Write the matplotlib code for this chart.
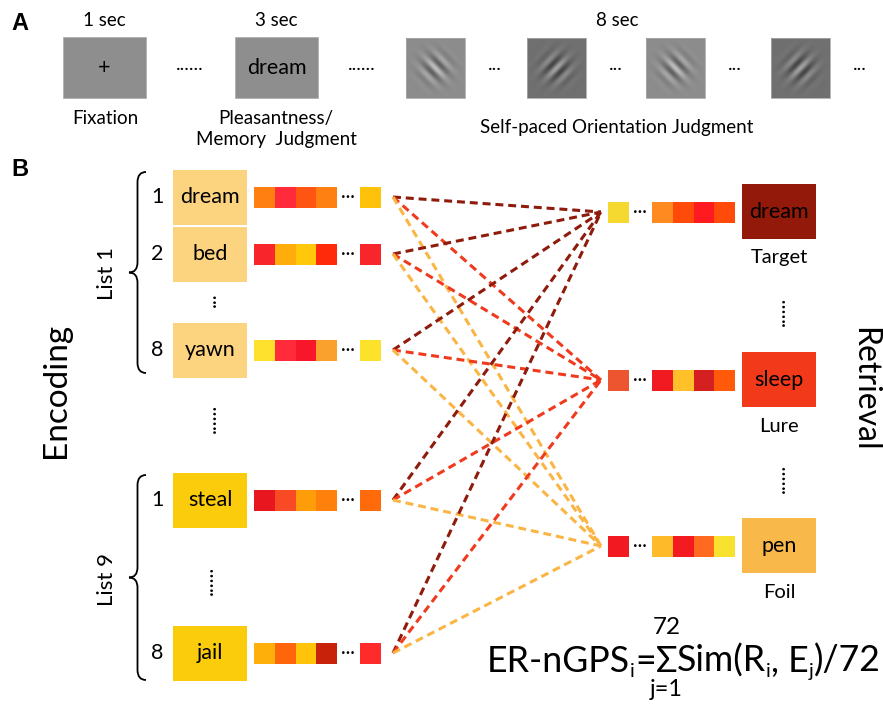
import numpy as np
import matplotlib
matplotlib.use("Agg")
import matplotlib.pyplot as plt
from matplotlib.patches import Rectangle, PathPatch
from matplotlib.path import Path

FONT = ["Lato", "DejaVu Sans"]

# ---- panel A: trial sequence ----
durations = ["1 sec", "3 sec", "8 sec"]
screen_text = ["+", "dream"]
phase_labels = ["Fixation", "Pleasantness/\nMemory  Judgment", "Self-paced Orientation Judgment"]
gabor_stripes = ["\\", "/", "\\", "/"]
gabor_bg = [0.55, 0.44, 0.55, 0.44]

# ---- panel B: encoding items ----
enc_words = ["dream", "bed", "yawn", "steal", "jail"]
enc_numbers = ["1", "2", "8", "1", "8"]
enc_box_colors = ["#fcd37f", "#fcd37f", "#fcd37f", "#fbcc0b", "#fbcc0b"]
enc_vectors = [
    ["#ff7f10", "#ff2a3a", "#ff5512", "#ff8012", "#ffc20a"],
    ["#f8262a", "#ffad0a", "#ffc80a", "#ff2a0a", "#f8262a"],
    ["#fde12c", "#ff2a3a", "#f8162a", "#f9a12c", "#fde22c"],
    ["#e8161f", "#f74a25", "#ff9c0a", "#ff800a", "#ff6a0a"],
    ["#ffaf0a", "#ff650a", "#ffc30a", "#c8230a", "#ff2a2a"],
]
list_names = ["List 1", "List 9"]

# ---- panel B: retrieval items ----
ret_words = ["dream", "sleep", "pen"]
ret_types = ["Target", "Lure", "Foil"]
ret_box_colors = ["#931a0a", "#f23a1a", "#f9b84a"]
ret_vectors = [
    ["#f5d830", "#ff8a20", "#ff4a0a", "#ff1a20", "#ff4a0a"],
    ["#ec5530", "#f01a20", "#ffc02a", "#d42020", "#ff5a0a"],
    ["#f21a20", "#ffba2a", "#f31a20", "#ff6a20", "#f8e22e"],
]
link_colors = ["#8e1b0c", "#f03a1e", "#fbb545"]

# layout (pixel units, y down)
enc_y = [197, 254, 350, 500, 653]
ret_y = [212, 380, 546]
SQ = 20.8

fig = plt.figure(figsize=(8.83, 7.05), dpi=100)
ax = fig.add_axes([0, 0, 1, 1])
ax.set_xlim(0, 883)
ax.set_ylim(705, 0)
ax.axis("off")


def txt(x, y, s, size, **kw):
    kw.setdefault("ha", "center")
    kw.setdefault("va", "center")
    kw.setdefault("family", FONT)
    return ax.text(x, y, s, fontsize=size, **kw)


def gabor(n, stripe, bg):
    yy, xx = np.mgrid[-1:1:n * 1j, -1:1:n * 1j]
    u = (xx - yy) if stripe == "\\" else (xx + yy)
    env = np.exp(-(xx ** 2 + yy ** 2) / (2 * 0.34 ** 2))
    return bg + 0.2 * env * np.cos(2 * np.pi * u * 2.6 / np.sqrt(2))


def brace(x, y0, y1, w):
    ym = (y0 + y1) / 2
    h = x - w / 2
    verts = [(x, y0), (h, y0), (h, y0 + w * 0.6), (h, ym - w * 0.6), (h, ym), (x - w, ym),
             (h, ym), (h, ym + w * 0.6), (h, y1 - w * 0.6), (h, y1), (x, y1)]
    codes = [Path.MOVETO, Path.CURVE3, Path.CURVE3, Path.LINETO, Path.CURVE3, Path.CURVE3,
             Path.CURVE3, Path.CURVE3, Path.LINETO, Path.CURVE3, Path.CURVE3]
    ax.add_patch(PathPatch(Path(verts, codes), fc="none", ec="black", lw=1.3))


# ---------------- panel A ----------------
txt(20, 24, "A", 17, family="Liberation Sans", weight="bold")
screen_x = [63, 235]
for x0, s, d in zip(screen_x, screen_text, durations[:2]):
    ax.add_patch(Rectangle((x0, 37), 83, 61, fc="#8e8e8e", ec="#b0b0b0", lw=0.6))
    txt(x0 + 41.5, 68, s, 15.5)
    txt(x0 + 41.5, 21, d, 13.5)
txt(190, 64, "......", 14)
txt(362, 64, "......", 14)

gab_x = [406, 527, 646, 771]
for x0, st, bg in zip(gab_x, gabor_stripes, gabor_bg):
    ax.imshow(gabor(80, st, bg), cmap="gray", vmin=0, vmax=1, extent=(x0, x0 + 59, 98, 38),
              interpolation="bilinear")
    ax.add_patch(Rectangle((x0, 38), 59, 60, fc="none", ec="#a8a8a8", lw=0.6))
    txt(x0 + 89, 64, "...", 14)
txt(617, 21, durations[2], 13.5)
txt(105, 118, phase_labels[0], 13.5)
txt(276, 129, phase_labels[1], 13.5, linespacing=1.3)
txt(617, 127, phase_labels[2], 13.5)
ax.set_xlim(0, 883)
ax.set_ylim(705, 0)
ax.set_aspect("auto")

# ---------------- panel B ----------------
txt(20, 170, "B", 17, family="Liberation Sans", weight="bold")
txt(56, 390, "Encoding", 24, rotation=90)
txt(864, 389, "Retrieval", 23, rotation=-90)

brace(146, 172, 373, 17)
brace(146, 475, 680, 17)
txt(107, 274, list_names[0], 16, rotation=90)
txt(107, 579, list_names[1], 16, rotation=90)

# links between encoding and retrieval vectors (drawn first)
for ye in enc_y:
    for yr, c in zip(ret_y, link_colors):
        ax.plot([393, 601], [ye, yr], color=c, lw=2.2, ls=(0, (2.6, 1.6)), zorder=1)

for y, w, n, bc, vec in zip(enc_y, enc_words, enc_numbers, enc_box_colors, enc_vectors):
    ax.add_patch(Rectangle((173, y - 27.5), 74, 55, fc=bc, ec="none", zorder=2))
    txt(210, y, w, 15.5)
    txt(157, y, n, 15.5)
    for k, c in enumerate(vec[:4]):
        ax.add_patch(Rectangle((254 + k * SQ, y - 10.5), SQ, 21, fc=c, ec="none", zorder=2))
    txt(348, y, "\u00b7\u00b7\u00b7", 13)
    ax.add_patch(Rectangle((360, y - 10.5), SQ, 21, fc=vec[4], ec="none", zorder=2))

# vertical ellipses on the encoding side
txt(210, 300, "...", 15, rotation=90)
txt(210, 418, "......", 15, rotation=90)
txt(207, 580, "......", 15, rotation=90)

for y, w, t, bc, vec in zip(ret_y, ret_words, ret_types, ret_box_colors, ret_vectors):
    ax.add_patch(Rectangle((742, y - 28), 74, 55, fc=bc, ec="none", zorder=2))
    txt(779, y, w, 15.5)
    txt(779, y + 46, t, 14.5)
    ax.add_patch(Rectangle((608, y - 10.5), SQ, 21, fc=vec[0], ec="none", zorder=2))
    txt(640, y, "\u00b7\u00b7\u00b7", 13)
    for k, c in enumerate(vec[1:]):
        ax.add_patch(Rectangle((652 + k * SQ, y - 10.5), SQ, 21, fc=c, ec="none", zorder=2))

txt(779, 311, "......", 15, rotation=90)
txt(779, 478, "......", 15, rotation=90)

# ---------------- formula ----------------
fig.canvas.draw()
rend = fig.canvas.get_renderer()
runs = [("ER-nGPS", 1.0, 0), ("i", 0.55, 6), ("=", 1.0, 0), ("\u03a3", 1.0, 0),
        ("Sim(R", 1.0, 0), ("i", 0.55, 6), (", E", 1.0, 0), ("j", 0.55, 6), (")/72", 1.0, 0)]


def measure(big):
    total = 0
    for s, f, dy in runs:
        t = txt(0, 0, s, big * f, ha="left", va="baseline")
        total += t.get_window_extent(rend).width
        t.remove()
    return total


BIG = 30 * 392 / measure(30)
x, base = 487, 672
sig = None
for s, f, dy in runs:
    t = txt(x, base + dy * BIG / 30, s, BIG * f, ha="left", va="baseline")
    wd = t.get_window_extent(rend).width
    if s == "\u03a3":
        sig = x + wd / 2
    x += wd
txt(sig, 627, "72", BIG * 0.68)
txt(sig, 690, "j=1", BIG * 0.66)

fig.savefig("out.png", dpi=100)
